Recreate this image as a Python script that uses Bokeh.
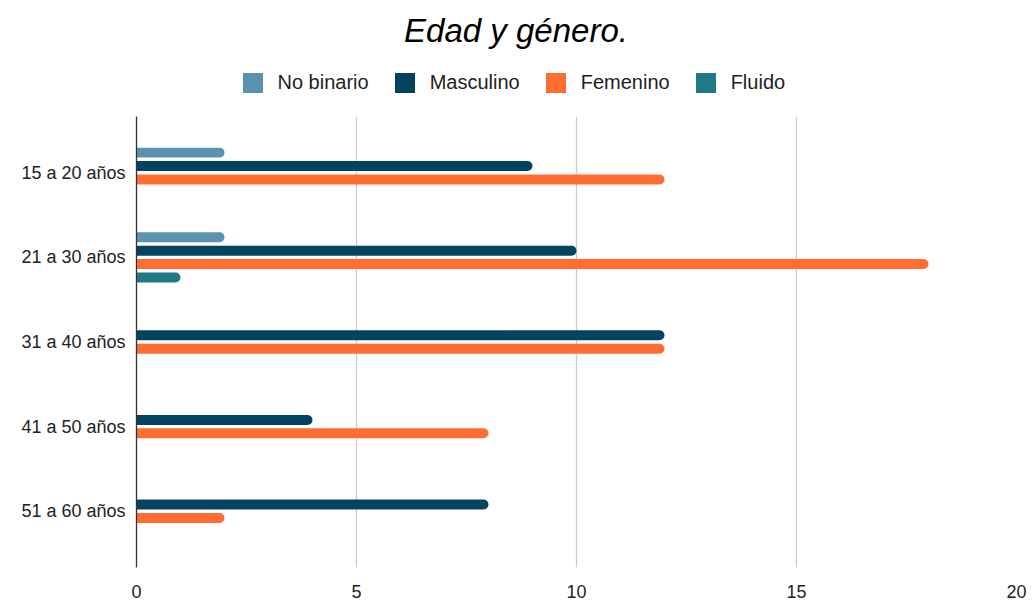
from bokeh.plotting import figure
from bokeh.layouts import column
from bokeh.models import Range1d, FixedTicker, Legend, LegendItem, ColumnDataSource, Label
from bokeh.embed import file_html
from bokeh.resources import INLINE

categories = ["15 a 20 años", "21 a 30 años", "31 a 40 años", "41 a 50 años", "51 a 60 años"]
series_names = ["No binario", "Masculino", "Femenino", "Fluido"]
no_binario = [2, 2, 0, 0, 0]
masculino = [9, 10, 12, 4, 8]
femenino = [12, 18, 12, 8, 2]
fluido = [0, 1, 0, 0, 0]
x_ticks = [0, 5, 10, 15, 20]
title_text = "Edad y género."

series_values = [no_binario, masculino, femenino, fluido]
colors = ["#5b92b0", "#02445f", "#ff6d31", "#1f7886"]
offsets = [-0.238, -0.079, 0.079, 0.238]
bar_h = 0.118

FONT = "Liberation Sans"
W = 1033
HEADER_H = 116
LEFT = 136
RIGHT = 17

# header: title + legend (its frame is aligned with the chart frame by the column layout)
header = figure(width=W, height=HEADER_H, output_backend="svg", toolbar_location=None,
                x_range=Range1d(LEFT, W - RIGHT), y_range=Range1d(0, HEADER_H),
                x_axis_type=None, y_axis_type=None, min_border=0,
                min_border_left=LEFT, min_border_right=RIGHT, title_location=None)
header.title = None
header.outline_line_color = None
header.xgrid.visible = False
header.ygrid.visible = False

header.add_layout(Label(x=W / 2 - 1, y=HEADER_H - 30, text=title_text,
                        text_align="center", text_baseline="middle",
                        text_font=FONT, text_font_size="33px", text_font_style="italic",
                        text_color="#000000"))

# legend swatches: off-canvas placeholder renderers carrying the series colours
legend_items = []
for name, col in zip(series_names, colors):
    src = ColumnDataSource(dict(y=[-1000], right=[0]))
    r = header.hbar(y="y", right="right", left=0, height=1, source=src,
                    fill_color=col, line_color=None)
    legend_items.append(LegendItem(label=name, renderers=[r]))

legend = Legend(items=legend_items, orientation="horizontal", location=(239.5 - LEFT, 21.5),
                label_text_font=FONT, label_text_font_size="20px",
                label_text_color="#222222", glyph_width=25, glyph_height=25,
                label_height=25, label_standoff=13, spacing=23, border_line_color=None,
                background_fill_alpha=0, padding=0, margin=0)
header.add_layout(legend, "center")

# main chart
p = figure(width=W, height=484, output_backend="svg", toolbar_location=None,
           x_range=Range1d(0, 20), y_range=Range1d(4.665, -0.665),
           min_border_left=LEFT, min_border_right=RIGHT, min_border_bottom=31,
           min_border_top=0, title_location=None)
p.title = None
p.outline_line_color = None

for name, vals, col, off in zip(series_names, series_values, colors, offsets):
    ys = [i + off for i, v in enumerate(vals) if v > 0]
    xs = [v for v in vals if v > 0]
    src = ColumnDataSource(dict(y=ys, right=xs))
    p.hbar(y="y", left=0, right="right", height=bar_h, source=src,
           fill_color=col, line_color=None, border_radius=(0, 5, 5, 0))

p.xaxis.ticker = FixedTicker(ticks=x_ticks)
p.xaxis.axis_line_color = None
p.xaxis.major_tick_line_color = None
p.xaxis.minor_tick_line_color = None
p.xaxis.major_label_text_font = FONT
p.xaxis.major_label_text_font_size = "18px"
p.xaxis.major_label_text_color = "#222222"
p.xaxis.major_label_standoff = 11

p.yaxis.ticker = FixedTicker(ticks=list(range(len(categories))))
p.yaxis.major_label_overrides = {i: c for i, c in enumerate(categories)}
p.yaxis.axis_line_color = "#333333"
p.yaxis.axis_line_width = 1.3
p.yaxis.major_tick_line_color = None
p.yaxis.minor_tick_line_color = None
p.yaxis.major_label_text_font = FONT
p.yaxis.major_label_text_font_size = "18px"
p.yaxis.major_label_text_color = "#222222"
p.yaxis.major_label_standoff = 5

p.xgrid.grid_line_color = "#cccccc"
p.xgrid.grid_line_width = 1.3
p.ygrid.grid_line_color = None

layout = column(header, p, spacing=0)
open("out.html", "w").write(file_html(layout, INLINE))
